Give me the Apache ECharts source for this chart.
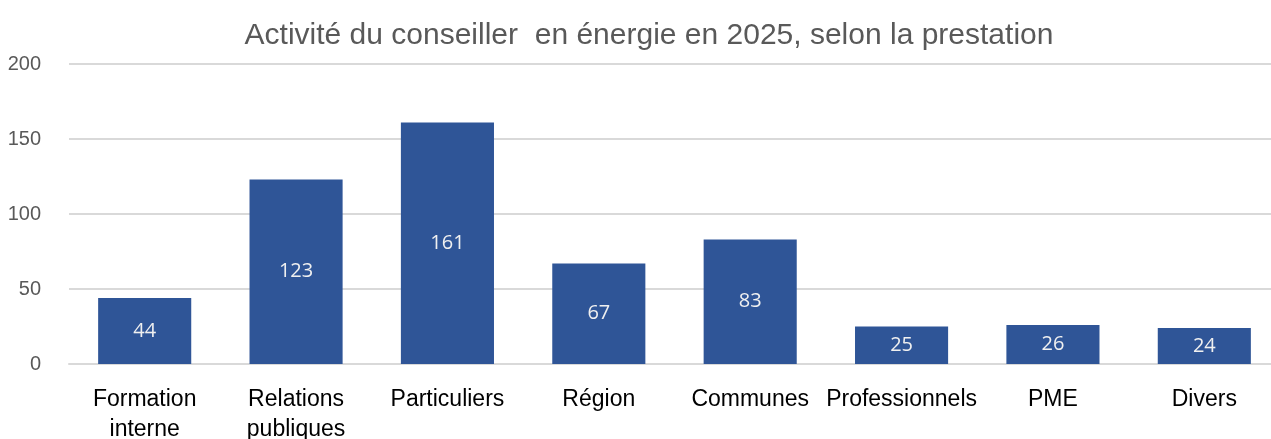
<!DOCTYPE html>
<html>
<head>
<meta charset="utf-8">
<script src="https://cdn.jsdelivr.net/npm/echarts@6/dist/echarts.min.js"></script>
<style>
  html, body { margin: 0; padding: 0; background: #fff; }
  #chart { width: 1271px; height: 439px; }
</style>
</head>
<body>
<div id="chart"></div>
<script>
const titleText = 'Activité du conseiller  en énergie en 2025, selon la prestation'
const categories = ['Formation\ninterne', 'Relations\npubliques', 'Particuliers', 'Région', 'Communes', 'Professionnels', 'PME', 'Divers']
const values = [44, 123, 161, 67, 83, 25, 26, 24]
const yTicks = [0, 50, 100, 150, 200]

const sans = '"Liberation Sans Narrow", "Arial Narrow", "Liberation Sans", Arial, sans-serif'

const chart = echarts.init(document.getElementById('chart'))

chart.setOption({
  animation: false,
  title: {
    text: titleText,
    left: 644,
    textAlign: 'center',
    top: 16,
    textStyle: {
      fontFamily: sans,
      fontSize: 30,
      fontWeight: 'normal',
      color: '#595959'
    }
  },
  grid: {
    left: 69,
    top: 64,
    width: 1211,
    height: 300,
    outerBoundsMode: 'none',
    containLabel: false
  },
  xAxis: {
    type: 'category',
    data: categories,
    axisLine: { lineStyle: { color: '#d9d9d9', width: 2 } },
    axisTick: { show: false },
    axisLabel: {
      interval: 0,
      margin: 21,
      fontFamily: sans,
      fontSize: 23,
      lineHeight: 30,
      color: '#000'
    }
  },
  yAxis: {
    type: 'value',
    min: yTicks[0],
    max: yTicks[yTicks.length - 1],
    interval: 50,
    axisLine: { show: false },
    axisTick: { show: false },
    splitLine: { lineStyle: { color: '#d9d9d9', width: 2 } },
    axisLabel: {
      margin: 28,
      fontFamily: sans,
      fontSize: 20,
      color: '#595959'
    }
  },
  series: [{
    type: 'bar',
    data: values,
    barWidth: '61.5%',
    itemStyle: { color: '#2f5597' },
    label: {
      show: true,
      position: 'inside',
      fontFamily: '"Open Sans", "Noto Sans", sans-serif',
      fontSize: 20,
      color: '#f0f0f0'
    }
  }]
})
</script>
</body>
</html>
